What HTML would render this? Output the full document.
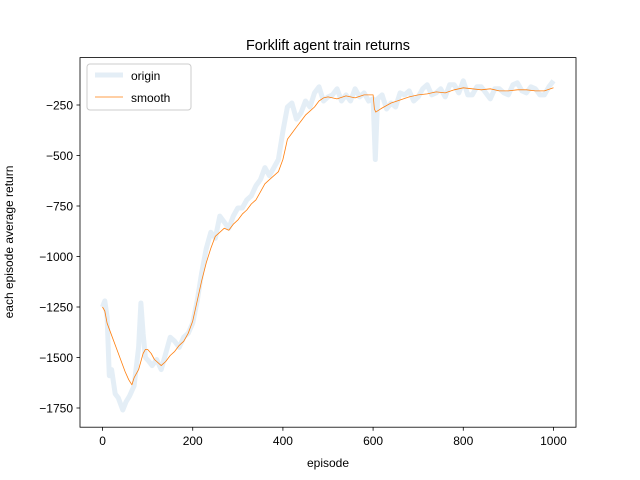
<!DOCTYPE html>
<html><head><meta charset="utf-8"><style>
body{margin:0;background:#fff}
svg{display:block;font-family:"Liberation Sans","DejaVu Sans",sans-serif}
</style></head><body>
<svg id="chart" width="640" height="480">
<rect width="640" height="480" fill="#fff"/>
<text x="328" y="50" font-size="14.4" text-anchor="middle">Forklift agent train returns</text>
<g id="plot"></g>
<rect x="80" y="57.6" width="496" height="369.6" fill="none" stroke="#000" stroke-width="0.8"/>
<g id="axes" font-size="12"></g>
<text x="328" y="467" font-size="12" text-anchor="middle">episode</text>
<text transform="translate(13,242) rotate(-90)" font-size="12" text-anchor="middle">each episode average return</text>
<g>
<rect x="87" y="64" width="104" height="46" rx="3" fill="#fff" fill-opacity="0.8" stroke="#ccc"/>
<line x1="95" y1="75" x2="123" y2="75" stroke="#1f77b4" stroke-opacity="0.12" stroke-width="5"/>
<text x="131" y="80" font-size="12">origin</text>
<line x1="95" y1="97" x2="123" y2="97" stroke="#ff7f0e" stroke-width="0.7"/>
<text x="131" y="102" font-size="12">smooth</text>
</g>
</svg>
<script>
const originX=[0,5,10,15,20,28,35,45,52,60,70,80,85,90,95,103,110,120,130,140,150,160,170,180,190,200,210,220,230,240,250,260,270,280,290,300,310,320,330,340,350,360,370,380,390,400,410,420,430,440,450,460,470,480,490,500,510,520,530,540,550,560,570,580,590,600,605,610,620,630,640,650,660,670,680,690,700,710,720,730,740,750,760,770,780,790,800,810,820,830,840,850,860,870,880,890,900,910,920,930,940,950,960,970,980,990,1000];
const originY=[-1250,-1220,-1300,-1590,-1560,-1680,-1700,-1760,-1720,-1690,-1640,-1450,-1230,-1380,-1500,-1520,-1540,-1510,-1560,-1480,-1400,-1420,-1450,-1400,-1380,-1330,-1220,-1080,-960,-880,-910,-800,-830,-860,-800,-760,-760,-720,-700,-650,-620,-560,-600,-560,-520,-380,-260,-240,-320,-290,-230,-260,-190,-160,-230,-210,-200,-170,-230,-200,-230,-170,-210,-190,-230,-220,-520,-220,-200,-270,-240,-260,-190,-200,-180,-230,-210,-170,-150,-200,-190,-170,-210,-150,-150,-190,-130,-200,-200,-160,-160,-190,-220,-170,-170,-190,-200,-150,-140,-180,-190,-160,-170,-200,-200,-160,-130];
const smoothX=[0,5,10,20,30,40,50,58,65,70,80,90,95,100,108,115,120,130,140,150,160,170,180,190,200,210,220,230,240,250,260,270,280,290,300,310,320,330,340,350,360,370,380,390,400,405,410,420,430,440,450,460,470,480,490,500,520,540,560,580,600,603,606,620,640,660,680,700,720,740,760,780,800,820,840,860,880,900,920,940,960,980,1000];
const smoothY=[-1250,-1270,-1330,-1390,-1450,-1510,-1570,-1610,-1635,-1600,-1560,-1480,-1460,-1460,-1480,-1510,-1520,-1540,-1520,-1490,-1470,-1440,-1420,-1380,-1320,-1220,-1120,-1030,-960,-900,-880,-860,-870,-840,-820,-790,-770,-740,-720,-680,-640,-620,-600,-580,-520,-470,-420,-390,-360,-330,-300,-280,-260,-230,-215,-210,-220,-205,-215,-200,-200,-270,-285,-265,-240,-225,-210,-200,-195,-185,-190,-175,-165,-170,-175,-170,-180,-180,-175,-175,-180,-180,-165];
const xTicks=[0,200,400,600,800,1000];
const yTicks=[-250,-500,-750,-1000,-1250,-1500,-1750];
const X=v=>80+(v+50)*496/1100;
const Y=v=>105+(-250-v)*0.202;
const ns="http://www.w3.org/2000/svg";
const plot=document.getElementById('plot'),axes=document.getElementById('axes');
function path(xs,ys,stroke,op,w,name){
 const p=document.createElementNS(ns,'path');
 p.setAttribute('d',xs.map((x,i)=>(i?'L':'M')+X(x).toFixed(1)+','+Y(ys[i]).toFixed(1)).join(''));
 p.setAttribute('fill','none');p.setAttribute('stroke',stroke);p.setAttribute('stroke-opacity',op);p.setAttribute('stroke-width',w);p.setAttribute('stroke-linejoin','round');
 
 
 plot.appendChild(p);
}
path(originX,originY,'#1f77b4',0.12,5,'origin-line');
path(smoothX,smoothY,'#ff7f0e',1,0.8,'smooth-line');
xTicks.forEach(t=>{
 const l=document.createElementNS(ns,'line');
 l.setAttribute('x1',X(t));l.setAttribute('x2',X(t));l.setAttribute('y1',427.2);l.setAttribute('y2',430.7);l.setAttribute('stroke','#000');l.setAttribute('stroke-width',0.8);
 
 
 axes.appendChild(l);
 const s=document.createElementNS(ns,'text');
 s.setAttribute('x',X(t));s.setAttribute('y',445);s.setAttribute('text-anchor','middle');s.textContent=t;
 
 
 axes.appendChild(s);
});
yTicks.forEach(t=>{
 const l=document.createElementNS(ns,'line');
 l.setAttribute('x1',76.5);l.setAttribute('x2',80);l.setAttribute('y1',Y(t));l.setAttribute('y2',Y(t));l.setAttribute('stroke','#000');l.setAttribute('stroke-width',0.8);
 
 
 axes.appendChild(l);
 const s=document.createElementNS(ns,'text');
 s.setAttribute('x',73);s.setAttribute('y',Y(t)+4.5);s.setAttribute('text-anchor','end');s.textContent=String(t).replace('-','\u2212');
 
 
 axes.appendChild(s);
});
</script>
</body></html>
